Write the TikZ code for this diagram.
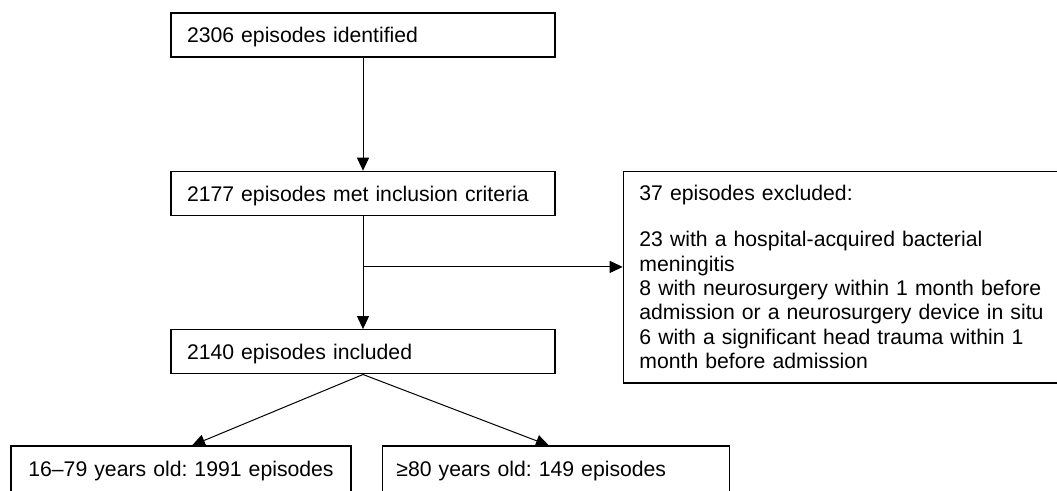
\documentclass[tikz,border=0pt]{standalone}
\usepackage{fontspec}
\setmainfont{Liberation Sans}
\usetikzlibrary{positioning,arrows.meta,calc}
\begin{document}
\begin{tikzpicture}[font=\fontsize{10.6pt}{12.2pt}\selectfont\frenchspacing,
  box/.style={draw,line width=0.7pt,text width=176pt,align=left,inner xsep=8pt,inner ysep=5pt,text height=10pt,text depth=2pt},
  cut/.style={box,text depth=20pt},
  note/.style={draw,line width=0.7pt,text width=212pt,align=left,inner xsep=8pt,inner ysep=7pt},
  ar/.style={-{Triangle[length=6.5pt,width=6pt]},line width=0.5pt}]
  \useasboundingbox (0,0) rectangle (528.5pt,-245.5pt);
  \node[box] (ident) at (181.5pt,-17.5pt) {2306 episodes identified};
  \node[box, below=56.5pt of ident] (met) {2177 episodes met inclusion criteria};
  \node[box, below=56.5pt of met] (incl) {2140 episodes included};
  \node[note, right=33.5pt of met.north east, anchor=north west] (excl)
    {37 episodes excluded:\\[10.8pt]
     23 with a hospital-acquired bacterial\\
     meningitis\\
     8 with neurosurgery within 1 month before\\
     admission or a neurosurgery device in situ\\
     6 with a significant head trauma within 1\\
     month before admission};
  % age groups, boxes run off the bottom edge
  \node[cut, inner xsep=2pt, text width=166pt, align=center, below=35.5pt of incl.south west, anchor=north west, xshift=-80pt] (young)
    {16--79 years old: 1991 episodes};
  \node[cut, inner xsep=7pt, text width=159.5pt, right=15pt of young.north east, anchor=north west] (old)
    {≥80 years old: 149 episodes};
  \coordinate (split) at ($(met.south)!0.45!(incl.north)$);
  \draw[ar] (ident) -- (met);
  \draw[ar] (met) -- (incl);
  \draw[ar] (split) -- (split -| excl.west);
  \draw[ar] (incl.south) -- ([xshift=5.5pt]young.north);
  \draw[ar] (incl.south) -- ([xshift=-3.5pt]old.north);
\end{tikzpicture}
\end{document}
